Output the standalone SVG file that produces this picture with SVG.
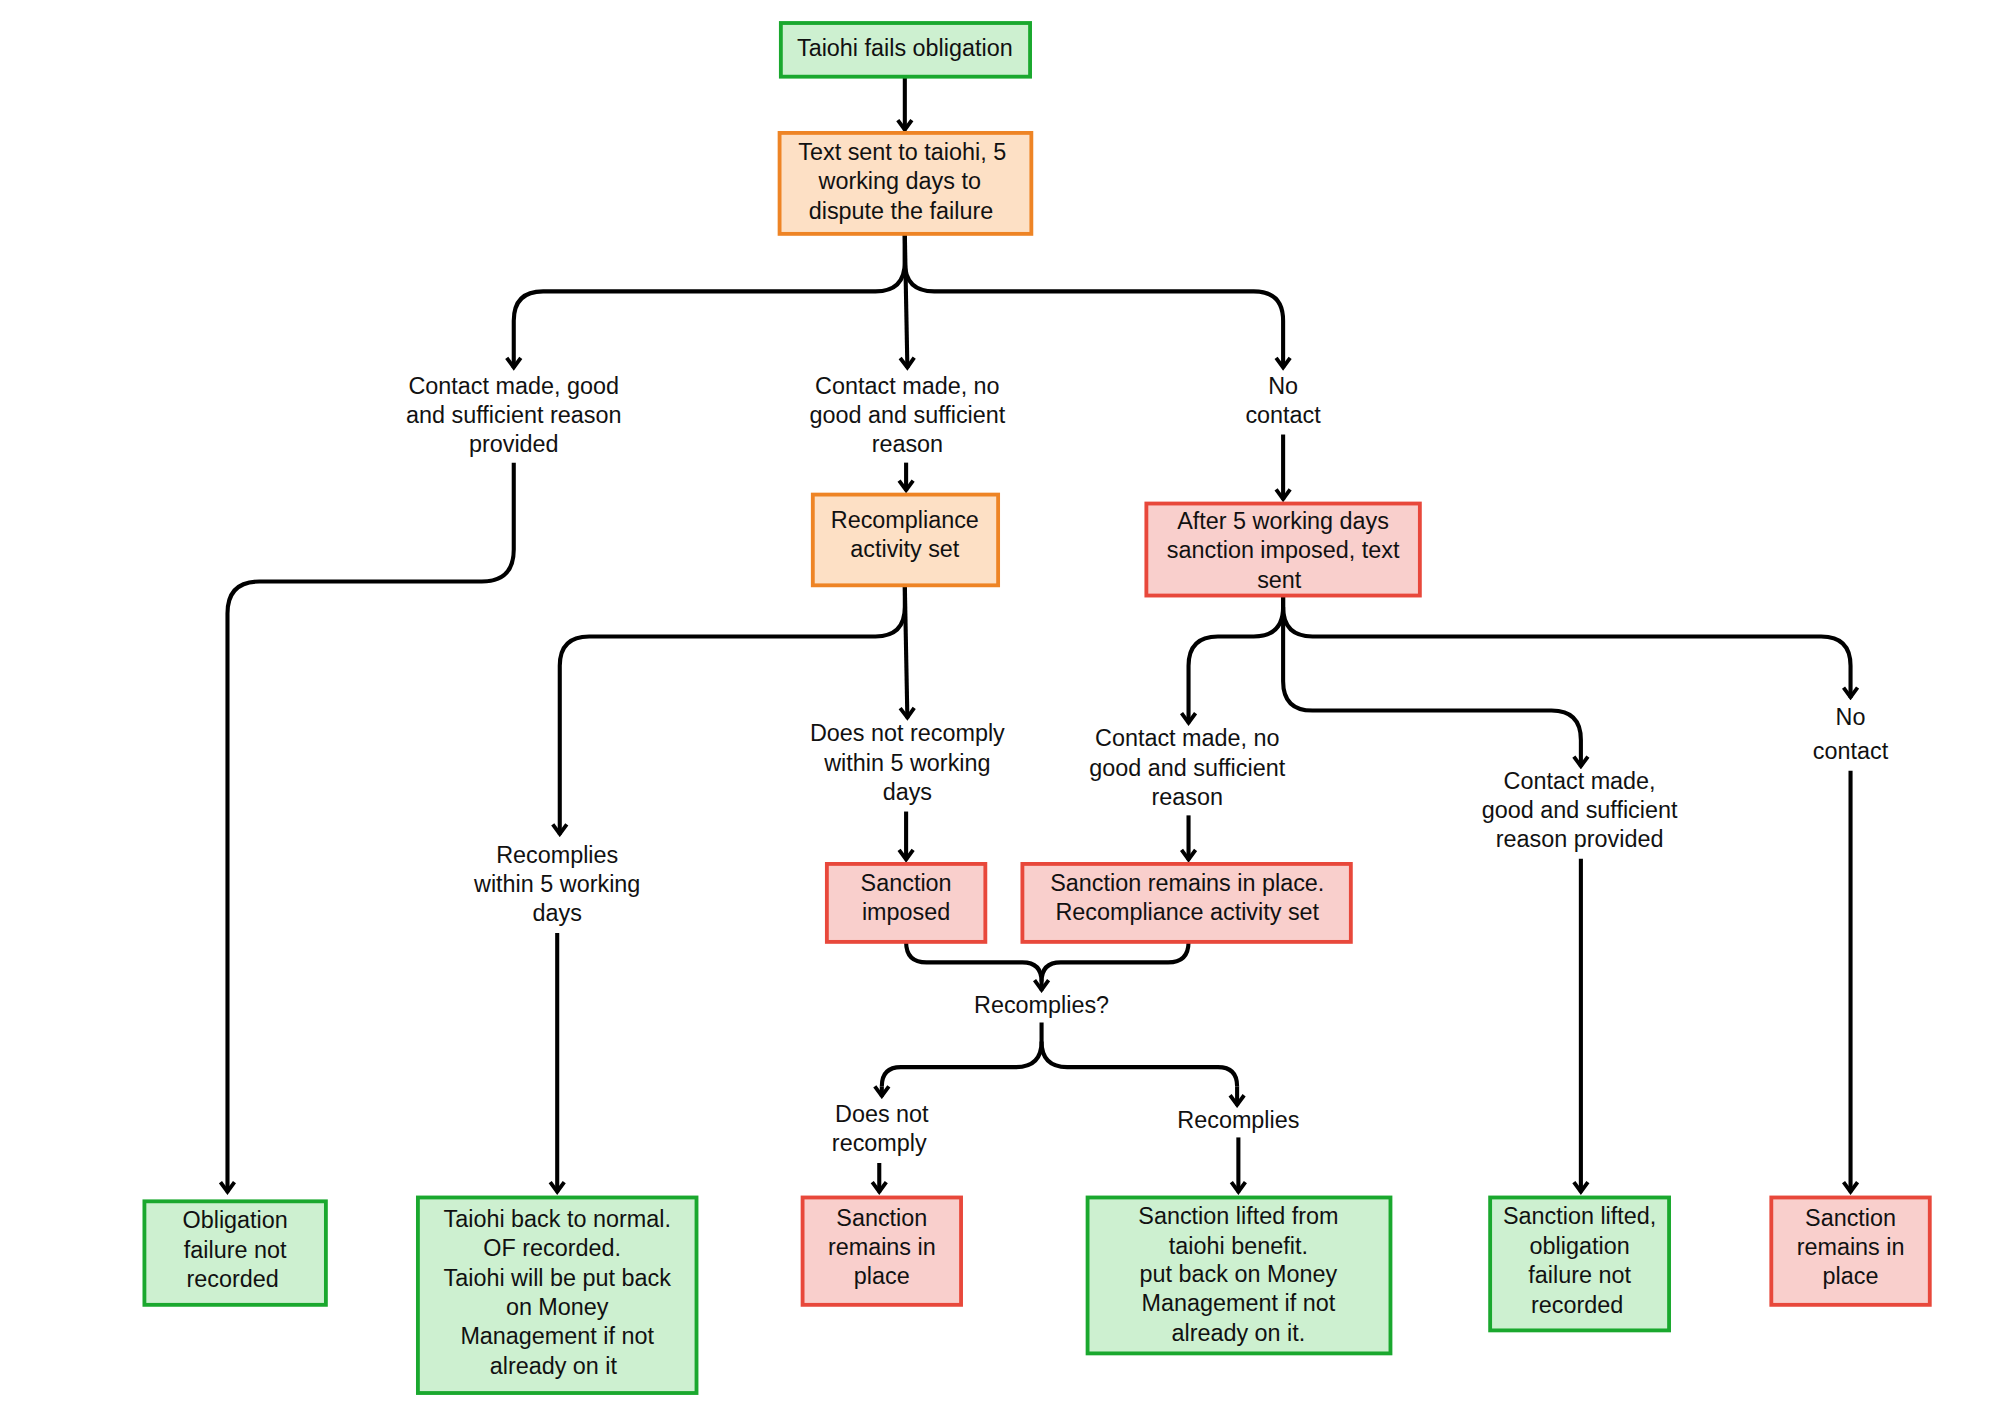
<svg xmlns="http://www.w3.org/2000/svg" width="2000" height="1414" viewBox="0 0 2000 1414">
<style>
.g rect{fill:#cdf0d0;stroke:#1aa82e;stroke-width:3}
.o rect{fill:#fde0c5;stroke:#ee8425;stroke-width:3}
.r rect{fill:#f9cfcc;stroke:#e8483b;stroke-width:3}
text{font-family:"Liberation Sans",Arial,sans-serif;font-size:18.3px;fill:#111;text-anchor:middle}
#edges path{fill:none;stroke:#000;stroke-width:3.2}
.a{marker-end:url(#ah)}
</style>
<defs><marker id="ah" viewBox="0 0 12 14" refX="10" refY="7" markerWidth="12" markerHeight="14" markerUnits="userSpaceOnUse" orient="auto"><path d="M2,1.5 L9.5,7 L2,12.5" fill="none" stroke="#000" stroke-width="3"/></marker></defs>
<rect width="2000" height="1414" fill="#fff"/>
<g transform="scale(1.278)">
<g id="edges">
<path class="a" d="M708,60 V102"/>
<path class="a" d="M708,183 V205 Q708,228 685,228 H425 Q402,228 402,251 V288"/>
<path class="a" d="M708,183 L710,288"/>
<path class="a" d="M708,183 V205 Q708,228 731,228 H981 Q1004,228 1004,251 V288"/>
<path class="a" d="M402,362 V430 Q402,455 377,455 H203 Q178,455 178,480 V933"/>
<path class="a" d="M709,362 V384"/>
<path class="a" d="M1004,340 V391"/>
<path class="a" d="M708,458 V475 Q708,498 685,498 H461 Q438,498 438,521 V653"/>
<path class="a" d="M708,458 L710,562"/>
<path class="a" d="M436,730 V933"/>
<path class="a" d="M709,635 V673"/>
<path class="a" d="M1004,466 V475 Q1004,498 981,498 H953 Q930,498 930,521 V566"/>
<path class="a" d="M930,638 V673"/>
<path d="M1004,466 V533 Q1004,556 1027,556 H1214 Q1237,556 1237,579"/>
<path class="a" d="M1237,579 V600"/>
<path class="a" d="M1237,672 V933"/>
<path class="a" d="M1004,475 Q1004,498 1027,498 H1425 Q1448,498 1448,521 V546"/>
<path class="a" d="M1448,603 V933"/>
<path d="M709,737 Q709,753 725,753 H800 Q815,753 815,768"/>
<path class="a" d="M930,737 Q930,753 914,753 H830 Q815,753 815,768 V775"/>
<path d="M815,800 V815 Q815,835 795,835 H705 Q690,835 690,850"/>
<path class="a" d="M690,850 V858"/>
<path d="M815,815 Q815,835 835,835 H953 Q968,835 968,850"/>
<path class="a" d="M968,850 V865"/>
<path class="a" d="M688,910 V933"/>
<path class="a" d="M969,890 V933"/>
</g>
<g id="n1" class="g"><rect x="611" y="18" width="195" height="42"/><text x="708" y="44">Taiohi fails obligation</text></g>
<g id="n2" class="o"><rect x="610" y="104" width="197" height="79"/><text x="706" y="125">Text sent to taiohi, 5</text><text x="704" y="148">working days to</text><text x="705" y="171">dispute the failure</text></g>
<g id="l1"><text x="402" y="308">Contact made,  good</text><text x="402" y="331">and sufficient reason</text><text x="402" y="354">provided</text></g>
<g id="l2"><text x="710" y="308">Contact made, no</text><text x="710" y="331">good and sufficient</text><text x="710" y="354">reason</text></g>
<g id="l3"><text x="1004" y="308">No</text><text x="1004" y="331">contact</text></g>
<g id="n3" class="o"><rect x="636" y="387" width="145" height="71"/><text x="708" y="413">Recompliance</text><text x="708" y="436">activity set</text></g>
<g id="n4" class="r"><rect x="897" y="394" width="214" height="72"/><text x="1004" y="414">After 5 working days</text><text x="1004" y="437">sanction imposed, text</text><text x="1001" y="460">sent</text></g>
<g id="l4"><text x="436" y="675">Recomplies</text><text x="436" y="698">within 5 working</text><text x="436" y="721">days</text></g>
<g id="l5"><text x="710" y="580">Does not recomply</text><text x="710" y="603">within 5 working</text><text x="710" y="626">days</text></g>
<g id="l6"><text x="929" y="584">Contact made, no</text><text x="929" y="607">good and sufficient</text><text x="929" y="630">reason</text></g>
<g id="l7"><text x="1236" y="617">Contact made,</text><text x="1236" y="640">good and sufficient</text><text x="1236" y="663">reason provided</text></g>
<g id="l8"><text x="1448" y="567">No</text><text x="1448" y="594">contact</text></g>
<g id="n5" class="r"><rect x="647" y="676" width="124" height="61"/><text x="709" y="697">Sanction</text><text x="709" y="720">imposed</text></g>
<g id="n6" class="r"><rect x="800" y="676" width="257" height="61"/><text x="929" y="697">Sanction remains in place.</text><text x="929" y="720">Recompliance activity set</text></g>
<g id="l9"><text x="815" y="793">Recomplies?</text></g>
<g id="l10"><text x="690" y="878">Does not</text><text x="688" y="901">recomply</text></g>
<g id="l11"><text x="969" y="883">Recomplies</text></g>
<g id="n7" class="g"><rect x="113" y="940" width="142" height="81"/><text x="184" y="961">Obligation</text><text x="184" y="984">failure not</text><text x="182" y="1007">recorded</text></g>
<g id="n8" class="g"><rect x="327" y="937" width="218" height="153"/><text x="436" y="960">Taiohi back to normal.</text><text x="432" y="983">OF recorded.</text><text x="436" y="1006">Taiohi will be put back</text><text x="436" y="1029">on Money</text><text x="436" y="1052">Management if not</text><text x="433" y="1075">already on it</text></g>
<g id="n9" class="r"><rect x="628" y="937" width="124" height="84"/><text x="690" y="959">Sanction</text><text x="690" y="982">remains in</text><text x="690" y="1005">place</text></g>
<g id="n10" class="g"><rect x="851" y="937" width="237" height="122"/><text x="969" y="958">Sanction lifted from</text><text x="969" y="981">taiohi benefit.</text><text x="969" y="1003">put back on Money</text><text x="969" y="1026">Management if not</text><text x="969" y="1049">already on it.</text></g>
<g id="n11" class="g"><rect x="1166" y="937" width="140" height="104"/><text x="1236" y="958">Sanction lifted,</text><text x="1236" y="981">obligation</text><text x="1236" y="1004">failure not</text><text x="1234" y="1027">recorded</text></g>
<g id="n12" class="r"><rect x="1386" y="937" width="124" height="84"/><text x="1448" y="959">Sanction</text><text x="1448" y="982">remains in</text><text x="1448" y="1005">place</text></g>
</g>
</svg>
